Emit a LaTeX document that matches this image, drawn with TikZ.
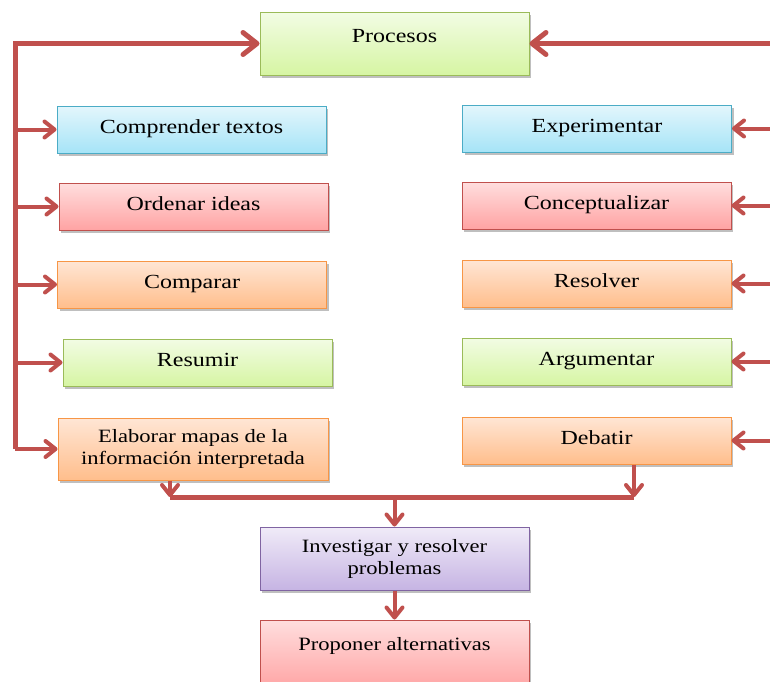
\documentclass[tikz,border=0pt]{standalone}
\usepackage{fontspec}
\setmainfont[FakeStretch=1.2]{Liberation Serif}
\usetikzlibrary{arrows.meta,shadows}
\definecolor{lnred}{HTML}{C0504D}
\definecolor{bluetop}{HTML}{E3F6FC}\definecolor{bluebot}{HTML}{A6E4F7}\definecolor{blueln}{HTML}{4BACC6}
\definecolor{redtop}{HTML}{FFDEDE}\definecolor{redbot}{HTML}{FFA3A3}\definecolor{redln}{HTML}{C0504D}
\definecolor{orgtop}{HTML}{FFE6D5}\definecolor{orgbot}{HTML}{FFBE8C}\definecolor{orgln}{HTML}{F79646}
\definecolor{grntop}{HTML}{F2FCE4}\definecolor{grnbot}{HTML}{D6F5A3}\definecolor{grnln}{HTML}{9BBB59}
\definecolor{purtop}{HTML}{F0EBF8}\definecolor{purbot}{HTML}{C6B4E3}\definecolor{purln}{HTML}{8064A2}
\begin{document}
\begin{tikzpicture}[x=1pt,y=-1pt,
  box/.style={rectangle, line width=1pt, minimum width=269pt, minimum height=47pt, inner sep=0pt,
    font=\fontsize{20}{22}\selectfont, align=center,
    drop shadow={shadow xshift=2pt, shadow yshift=-2.5pt, opacity=0.25, fill=black}},
  twol/.style={box, font=\fontsize{18.8}{22}\selectfont},
  onel/.style={box, text height=14pt, text depth=7pt},
  bluebox/.style={draw=blueln, top color=bluetop, bottom color=bluebot},
  redbox/.style={draw=redln, top color=redtop, bottom color=redbot},
  orgbox/.style={draw=orgln, top color=orgtop, bottom color=orgbot},
  grnbox/.style={draw=grnln, top color=grntop, bottom color=grnbot},
  purbox/.style={draw=purln, top color=purtop, bottom color=purbot},
  mainln/.style={draw=lnred, line width=5pt},
  branch/.style={draw=lnred, line width=4pt},
  bigtip/.style={-{Straight Barb[length=14pt,width=22pt,round]}},
  smalltip/.style={-{Straight Barb[length=10pt,width=16pt,round]}}
]
\useasboundingbox (0,0) rectangle (770,681);

% boxes
\node[onel, grnbox, minimum height=63pt, text depth=17pt] (proc) at (394.5,43.5) {Procesos};
\node[onel, bluebox] (comp) at (191.5,129.5) {Comprender textos};
\node[onel, bluebox] (exp) at (597,128.5) {Experimentar};
\node[onel, redbox] (ord) at (193.5,206.5) {Ordenar ideas};
\node[onel, redbox] (conc) at (596.5,205.5) {Conceptualizar};
\node[onel, orgbox] (compa) at (192,284.5) {Comparar};
\node[onel, orgbox] (res) at (596.5,283.5) {Resolver};
\node[onel, grnbox] (resu) at (197.5,362.5) {Resumir};
\node[onel, grnbox] (arg) at (596.5,361.5) {Argumentar};
\node[twol, orgbox, minimum width=270pt, minimum height=62pt] (elab) at (193,449) {Elaborar mapas de la\\información interpretada};
\node[onel, orgbox] (deb) at (596.5,440.5) {Debatir};
\node[twol, purbox, minimum height=63pt] (inv) at (394.5,558.5) {Investigar y resolver\\problemas};
\node[onel, redbox, font=\fontsize{18.8}{22}\selectfont, minimum height=70pt, text depth=24pt] (prop) at (394.5,655) {Proponer alternativas};

% left feedback line
\coordinate (LT) at (15,43.5);
\coordinate (LB) at (15,449);
\draw[mainln, bigtip] (LB) -- (LT) -- (proc.west);
\draw[branch, smalltip] (LB) -- (elab.west);
\draw[branch, smalltip] (LT |- comp.west) -- (comp.west);
\draw[branch, smalltip] (LT |- ord.west) -- (ord.west);
\draw[branch, smalltip] (LT |- compa.west) -- (compa.west);
\draw[branch, smalltip] (LT |- resu.west) -- (resu.west);

% right feedback line
\coordinate (RT) at (775,43.5);
\coordinate (RB) at (775,440.5);
\draw[mainln, bigtip] (RB) -- (RT) -- (proc.east);
\draw[branch, smalltip] (RT |- exp.east) -- (exp.east);
\draw[branch, smalltip] (RT |- conc.east) -- (conc.east);
\draw[branch, smalltip] (RT |- res.east) -- (res.east);
\draw[branch, smalltip] (RT |- arg.east) -- (arg.east);
\draw[branch, smalltip] (RB) -- (deb.east);

% bottom merge
\coordinate (JL) at (170,497);
\coordinate (JR) at (634,497);
\coordinate (JM) at (394.5,497);
\draw[mainln] (JL) -- (JR);
\draw[branch, smalltip] ([xshift=-23pt]elab.south) -- (JL);
\draw[branch, smalltip] ([xshift=37.5pt]deb.south) -- (JR);
\draw[branch, smalltip] (JM) -- (inv.north);
\draw[branch, smalltip] (inv.south) -- (prop.north);
\end{tikzpicture}
\end{document}
